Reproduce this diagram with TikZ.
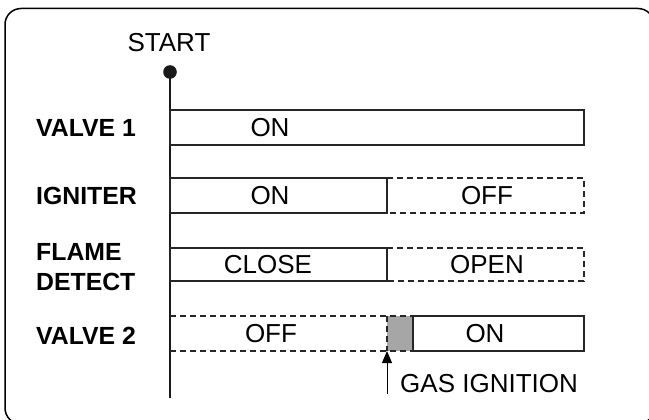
\documentclass[tikz,border=0pt]{standalone}
\usepackage{fontspec}
\setmainfont{Liberation Sans}
\usetikzlibrary{arrows.meta}
\begin{document}
\begin{tikzpicture}[x=1pt,y=-1pt,
  lbl/.style={font=\fontsize{24.8}{30}\selectfont\bfseries, anchor=west, inner sep=0pt},
  txt/.style={font=\fontsize{26}{28}\selectfont, inner sep=0pt},
  solidbar/.style={draw=black!85, line width=1.5pt},
  dashbar/.style={draw=black!85, line width=1.5pt, dash pattern=on 6pt off 4pt},
  axis/.style={draw=black!90, line width=2.8pt}]
\useasboundingbox (0,0) rectangle (649,420);
\clip (0,0) rectangle (649,420);
\draw[line width=1.5pt, rounded corners=16pt] (5,8.5) rectangle (654,424);
% start
\node[txt] (start) at (169,43) {START};
\fill[black!90] (170,72) circle (6.8pt);
\coordinate (top) at (170,72);
\coordinate (bot) at (170,398);
\draw[axis] (top) -- (bot);
% valve 1
\node[lbl] (l1) at (36,128) {VALVE 1};
\draw[solidbar] (170,110) rectangle (584,145);
\node[txt] (t1) at (270,128) {ON};
% igniter
\node[lbl] (l2) at (36,196) {IGNITER};
\draw[solidbar] (170,178) rectangle (387,213);
\draw[dashbar] (387,178) -- (584,178) -- (584,213) -- (387,213);
\node[txt] (t2a) at (270,196) {ON};
\node[txt] (t2b) at (487,196) {OFF};
% flame detect
\node[lbl, align=left] (l3) at (36,267) {FLAME\\DETECT};
\draw[solidbar] (170,248) rectangle (387,281);
\draw[dashbar] (387,248) -- (584,248) -- (584,281) -- (387,281);
\node[txt] (t3a) at (268,265) {CLOSE};
\node[txt] (t3b) at (487,265) {OPEN};
% valve 2
\node[lbl] (l4) at (36,336) {VALVE 2};
\fill[black!35] (387,316) rectangle (413,351);
\draw[dashbar] (170,316) -- (413,316);
\draw[dashbar] (170,351) -- (413,351);
\draw[dashbar] (387,316) -- (387,351);
\draw[solidbar] (413,316) rectangle (584,351);
\node[txt] (t4a) at (271,334) {OFF};
\node[txt] (t4b) at (485,334) {ON};
% gas ignition
\coordinate (ign) at (387,351);
\coordinate (ignb) at (387,394);
\draw[line width=1pt, -{Triangle[length=12pt,width=10pt]}] (ignb) -- (ign);
\node[txt, anchor=west] (gas) at (400,384) {GAS IGNITION};
\end{tikzpicture}
\end{document}
